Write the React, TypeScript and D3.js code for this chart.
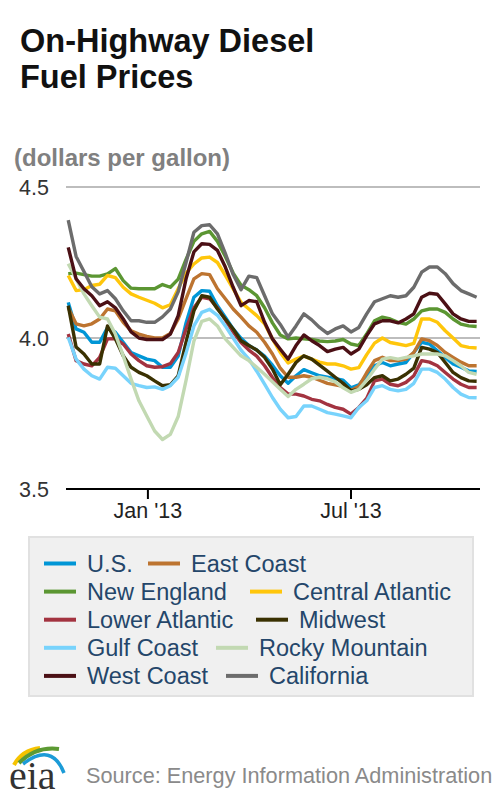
import * as d3 from "d3";
import React from "react";

// Weekly retail on-highway diesel prices ($/gal), Mondays Oct 22 2012 .. Oct 21 2013
const weeks = d3.timeMonday.range(new Date(2012, 9, 22), new Date(2013, 9, 22));

const usPrices = [
  4.118, 4.03, 4.019, 3.986, 3.986, 4.035, 4.019, 3.986, 3.952, 3.941, 3.93,
  3.925, 3.903, 3.903, 3.94, 4.05, 4.135, 4.157, 4.155, 4.107, 4.069, 4.03,
  3.999, 3.975, 3.96, 3.94, 3.91, 3.875, 3.85, 3.875, 3.895, 3.885, 3.875,
  3.87, 3.865, 3.86, 3.835, 3.845, 3.875, 3.908, 3.919, 3.908, 3.914, 3.919,
  3.952, 3.986, 3.98, 3.958, 3.936, 3.914, 3.903, 3.891, 3.889,
];
const eastCoast = [
  4.1, 4.047, 4.04, 4.047, 4.063, 4.096, 4.09, 4.052, 4.024, 4.013, 4.005, 4.0,
  4.0, 4.015, 4.063, 4.13, 4.196, 4.213, 4.21, 4.163, 4.13, 4.096, 4.069, 4.04,
  4.019, 3.986, 3.947, 3.9, 3.87, 3.87, 3.875, 3.87, 3.86, 3.85, 3.845, 3.84,
  3.826, 3.84, 3.885, 3.925, 3.936, 3.925, 3.925, 3.93, 3.952, 3.997, 3.991,
  3.975, 3.952, 3.936, 3.92, 3.908, 3.908,
];
const newEngland = [
  4.213, 4.215, 4.21, 4.205, 4.205, 4.212, 4.23, 4.19, 4.165, 4.163, 4.163,
  4.163, 4.177, 4.168, 4.195, 4.26, 4.32, 4.345, 4.353, 4.32, 4.27, 4.215,
  4.175, 4.16, 4.14, 4.1, 4.05, 4.01, 3.997, 4.0, 3.997, 3.995, 3.99, 3.988,
  3.99, 3.995, 3.98, 3.975, 4.013, 4.057, 4.069, 4.063, 4.052, 4.046, 4.063,
  4.09, 4.096, 4.096, 4.085, 4.063, 4.046, 4.04, 4.038,
];
const centralAtlantic = [
  4.207, 4.157, 4.16, 4.174, 4.178, 4.207, 4.2, 4.168, 4.146, 4.135, 4.125,
  4.115, 4.1, 4.11, 4.163, 4.215, 4.245, 4.265, 4.268, 4.25, 4.207, 4.163,
  4.118, 4.096, 4.074, 4.047, 3.997, 3.952, 3.917, 3.93, 3.94, 3.93, 3.92,
  3.914, 3.914, 3.908, 3.897, 3.902, 3.945, 3.983, 4.0, 3.985, 3.98, 3.975,
  3.982, 4.063, 4.063, 4.052, 4.024, 4.0, 3.975, 3.969, 3.967,
];
const lowerAtlantic = [
  4.013, 3.925, 3.914, 3.908, 3.936, 3.997, 3.998, 3.98, 3.947, 3.925, 3.908,
  3.903, 3.905, 3.915, 3.952, 4.03, 4.1, 4.135, 4.13, 4.1, 4.06, 4.02, 3.985,
  3.96, 3.94, 3.908, 3.869, 3.836, 3.814, 3.814, 3.808, 3.797, 3.792, 3.78,
  3.77, 3.764, 3.748, 3.77, 3.8, 3.858, 3.864, 3.847, 3.842, 3.853, 3.875,
  3.925, 3.92, 3.908, 3.886, 3.864, 3.847, 3.836, 3.836,
];
const midwest = [
  4.107, 3.97, 3.947, 3.914, 3.914, 4.04, 3.997, 3.941, 3.903, 3.886, 3.875,
  3.858, 3.842, 3.845, 3.875, 3.986, 4.09, 4.14, 4.135, 4.096, 4.063, 4.03,
  3.991, 3.975, 3.96, 3.936, 3.897, 3.845, 3.88, 3.919, 3.941, 3.93, 3.91,
  3.89, 3.87, 3.85, 3.825, 3.83, 3.845, 3.869, 3.875, 3.858, 3.864, 3.88, 3.9,
  3.969, 3.963, 3.952, 3.919, 3.886, 3.869, 3.858, 3.857,
];
const gulfCoast = [
  4.002, 3.93, 3.897, 3.875, 3.864, 3.903, 3.9, 3.875, 3.85, 3.842, 3.836,
  3.838, 3.83, 3.842, 3.87, 3.95, 4.04, 4.085, 4.095, 4.075, 4.04, 4.0, 3.96,
  3.93, 3.89, 3.847, 3.803, 3.764, 3.736, 3.74, 3.775, 3.775, 3.764, 3.753,
  3.748, 3.742, 3.736, 3.77, 3.792, 3.836, 3.842, 3.83, 3.825, 3.83, 3.85,
  3.897, 3.897, 3.886, 3.864, 3.836, 3.814, 3.803, 3.802,
];
const rockyMountain = [
  4.246, 4.196, 4.146, 4.107, 4.069, 4.063, 4.013, 3.941, 3.864, 3.792, 3.742,
  3.692, 3.664, 3.681, 3.74, 3.86, 3.99, 4.055, 4.063, 4.04, 3.997, 3.969,
  3.941, 3.925, 3.903, 3.88, 3.855, 3.83, 3.806, 3.83, 3.847, 3.865, 3.87,
  3.865, 3.855, 3.835, 3.82, 3.83, 3.86, 3.897, 3.93, 3.935, 3.93, 3.936,
  3.941, 3.947, 3.947, 3.947, 3.941, 3.925, 3.908, 3.886, 3.88,
];
const westCoast = [
  4.3, 4.196, 4.163, 4.14, 4.107, 4.12, 4.1, 4.063, 4.02, 4.0, 3.995, 3.995,
  3.995, 4.013, 4.074, 4.196, 4.285, 4.312, 4.31, 4.29, 4.235, 4.168, 4.107,
  4.124, 4.12, 4.052, 3.997, 3.963, 3.93, 3.975, 4.01, 3.991, 3.975, 3.955,
  3.963, 3.969, 3.947, 3.963, 4.008, 4.047, 4.057, 4.057, 4.05, 4.063, 4.08,
  4.135, 4.148, 4.145, 4.113, 4.08, 4.063, 4.055, 4.055,
];
const california = [
  4.39, 4.27, 4.22, 4.17, 4.146, 4.157, 4.13, 4.09, 4.057, 4.057, 4.052, 4.052,
  4.07, 4.096, 4.153, 4.25, 4.35, 4.372, 4.375, 4.345, 4.28, 4.21, 4.16, 4.205,
  4.2, 4.14, 4.08, 4.045, 4.003, 4.04, 4.08, 4.06, 4.035, 4.015, 4.03, 4.04,
  4.02, 4.035, 4.08, 4.12, 4.13, 4.14, 4.135, 4.14, 4.168, 4.218, 4.235, 4.235,
  4.213, 4.18, 4.157, 4.146, 4.135,
];

const regions = [
  "U.S.", "East Coast", "New England", "Central Atlantic", "Lower Atlantic",
  "Midwest", "Gulf Coast", "Rocky Mountain", "West Coast", "California",
];
const regionPrices = [
  usPrices, eastCoast, newEngland, centralAtlantic, lowerAtlantic,
  midwest, gulfCoast, rockyMountain, westCoast, california,
];
const yTicks = [3.5, 4.0, 4.5];
const xTicks = [new Date(2013, 0, 1), new Date(2013, 6, 1)];

const palette = [
  "#0096d6", "#bd7430", "#5b9632", "#ffc60b", "#a33340",
  "#3a3102", "#78d3fc", "#c2d9b2", "#4b1015", "#6c6c6c",
];

// legend layout: two entries per row, second column start varies by row
const legendCol2 = [148, 250, 256, 216, 226];

const font = "'Liberation Sans', Arial, sans-serif";

const App = (): React.ReactElement => {
  const x = d3
    .scaleTime()
    .domain([new Date(2012, 9, 20), new Date(2013, 9, 24)])
    .range([66, 480]);
  const y = d3.scaleLinear().domain([3.5, 4.5]).range([489, 187]);

  const line = d3
    .line<number>()
    .x((_, i) => x(weeks[i]))
    .y((d) => y(d));

  const fmt = d3.timeFormat("%b '%y");

  return (
    <svg
      width={500}
      height={800}
      style={{ position: "absolute", left: 0, top: 0, background: "#fff" }}
      fontFamily={font}
    >
      <text x={20} y={52} fontSize={32.5} fontWeight="bold" fill="#111">
        On-Highway Diesel
      </text>
      <text x={20} y={88} fontSize={32.5} fontWeight="bold" fill="#111">
        Fuel Prices
      </text>
      <text x={14} y={166} fontSize={24} fontWeight="bold" fill="#808080">
        (dollars per gallon)
      </text>

      {/* gridlines + y labels */}
      {yTicks.map((t) => (
        <g key={t}>
          {t > 3.5 && (
            <line x1={66} x2={480} y1={y(t)} y2={y(t)} stroke="#bdbdbd" strokeWidth={2} />
          )}
          <text x={49} y={y(t)} dy="0.36em" textAnchor="end" fontSize={21.5} fill="#333">
            {t.toFixed(1)}
          </text>
        </g>
      ))}

      {/* series */}
      {regionPrices.map((vals, k) => (
        <path
          key={regions[k]}
          d={line(vals) ?? ""}
          fill="none"
          stroke={palette[k]}
          strokeWidth={3.4}
          strokeLinejoin="round"
        />
      ))}

      {/* x axis */}
      <line x1={66} x2={480} y1={y(3.5)} y2={y(3.5)} stroke="#000" strokeWidth={2} />
      {xTicks.map((t) => (
        <g key={t.getTime()}>
          <line x1={x(t)} x2={x(t)} y1={y(3.5)} y2={y(3.5) + 10} stroke="#000" strokeWidth={2} />
          <text x={x(t)} y={518} textAnchor="middle" fontSize={21.5} fill="#222">
            {fmt(t)}
          </text>
        </g>
      ))}

      {/* legend */}
      <rect x={29} y={537} width={444} height={159} fill="#f0f0f0" stroke="#e1e1e1" strokeWidth={2} />
      {regions.map((name, k) => {
        const row = Math.floor(k / 2);
        const sx = k % 2 === 0 ? 44 : legendCol2[row];
        const cy = 563.5 + row * 28.1;
        return (
          <g key={name}>
            <line x1={sx} x2={sx + 32} y1={cy} y2={cy} stroke={palette[k]} strokeWidth={4} />
            <text x={sx + 43} y={cy} dy="0.36em" fontSize={23.5} fill="#24466a">
              {name}
            </text>
          </g>
        );
      })}

      {/* eia logo */}
      <path d="M14,765 Q22,750 40,748" fill="none" stroke="#f6c300" strokeWidth={4} />
      <path d="M19,763 Q36,746 59,749" fill="none" stroke="#5c9a33" strokeWidth={4} />
      <path d="M23,764 Q52,742 64,773" fill="none" stroke="#1c9bd7" strokeWidth={3.5} />
      <text x={9} y={789} fontSize={40} fontFamily="'Liberation Serif', serif" fill="#333">
        eia
      </text>

      <text x={86} y={775} dy="0.36em" fontSize={21.7} fill="#8a8a8a">
        Source: Energy Information Administration
      </text>
    </svg>
  );
};

export default App;
